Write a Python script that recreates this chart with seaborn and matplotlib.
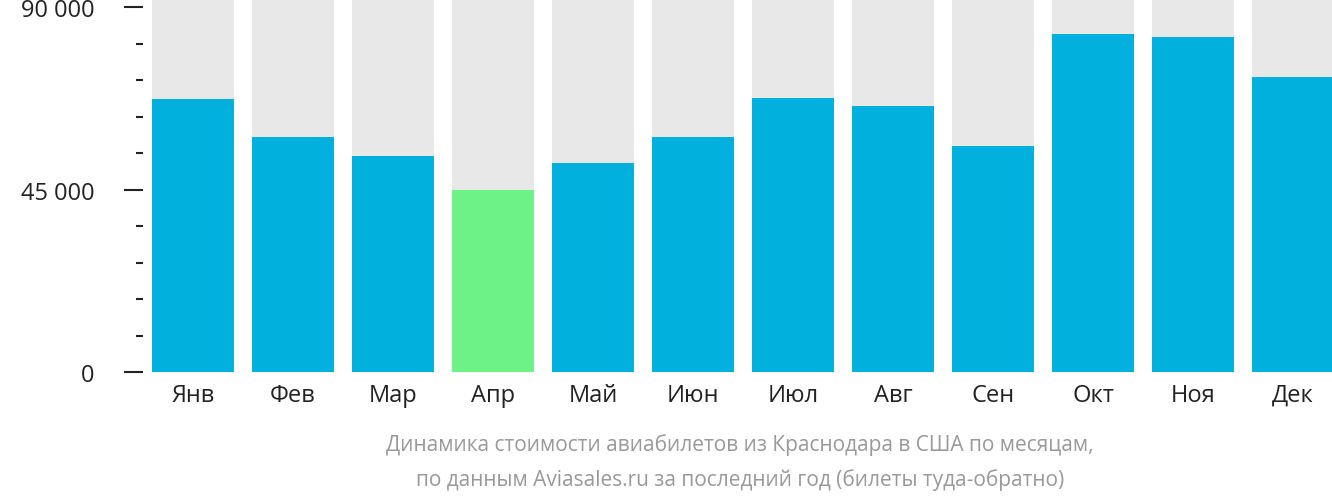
import matplotlib
matplotlib.use("Agg")
import matplotlib.pyplot as plt
import seaborn as sns
import pandas as pd
from matplotlib.ticker import MultipleLocator, FuncFormatter

months = ["Янв","Фев","Мар","Апр","Май","Июн","Июл","Авг","Сен","Окт","Ноя","Дек"]
prices = [67300, 57950, 53260, 44880, 51540, 57950, 67560, 65600, 55730, 83350, 82600, 72750]
cheapest = "Апр"
top = 92000

plt.rcParams["font.family"] = "Open Sans"
fig = plt.figure(figsize=(13.32, 5.02), dpi=100)
ax = fig.add_axes([143/1332, 1-373/502, 1200/1332, 373/502])

df = pd.DataFrame({"m": months, "p": prices, "bg": [top]*len(months)})
sns.barplot(data=df, x="m", y="bg", color="#e8e8e8", width=0.82, saturation=1, ax=ax)
palette = {m: ("#6cf285" if m == cheapest else "#01b0dc") for m in months}
sns.barplot(data=df, x="m", y="p", hue="m", palette=palette, width=0.82, saturation=1, legend=False, ax=ax)

ax.set_xlim(-0.5, 11.5)
ax.set_ylim(0, top)
for s in ax.spines.values():
    s.set_visible(False)
ax.yaxis.set_major_locator(MultipleLocator(45000))
ax.yaxis.set_minor_locator(MultipleLocator(9000))
ax.yaxis.set_major_formatter(FuncFormatter(lambda v, p: f"{int(v):,}".replace(",", " ") + " ₽"))
ax.tick_params(axis="y", which="major", length=14, width=1.5, color="#222222", labelsize=17, labelcolor="#222222", pad=6)
ax.tick_params(axis="y", which="minor", length=5, width=1.5, color="#222222")
ax.tick_params(axis="x", length=0, labelsize=17, labelcolor="#222222", pad=8)
ax.set_xlabel("")
ax.set_ylabel("")

fig.text(740/1332, 1-445/502, "Динамика стоимости авиабилетов из Краснодара в США по месяцам,",
         ha="center", va="center", fontsize=15, color="#999999")
fig.text(740/1332, 1-480/502, "по данным Aviasales.ru за последний год (билеты туда-обратно)",
         ha="center", va="center", fontsize=15, color="#999999")
fig.savefig("out.png", dpi=100)
